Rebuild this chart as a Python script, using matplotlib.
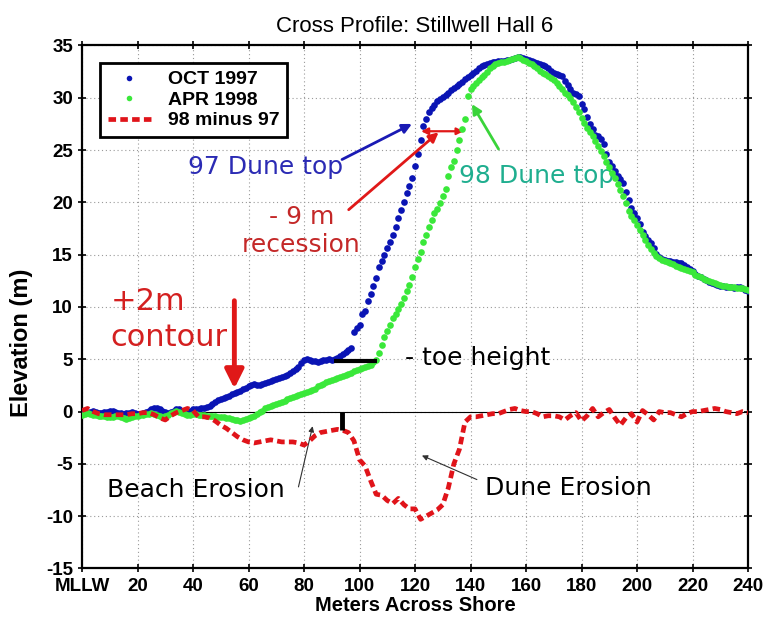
#! /usr/bin/env python3

import numpy as np
import matplotlib
matplotlib.use('Agg')
import matplotlib.pyplot as plt
from matplotlib.lines import Line2D

# ---- data (1 m spacing for the surveys, 2 m for the difference) ----
x_survey = np.arange(0, 241, 1)

oct_1997 = [
    0.1, 0.0, -0.1, 0.0, 0.1, 0.0, -0.1, -0.1, 0.0, 0.0,
    0.1, 0.1, 0.0, -0.1, -0.1, -0.2, -0.1, -0.1, 0.0, -0.1,
    -0.2, -0.2, -0.1, 0.0, 0.1, 0.2, 0.3, 0.3, 0.2, 0.1,
    0.0, -0.1, 0.0, 0.1, 0.2, 0.2, 0.1, 0.0, 0.0, 0.1,
    0.2, 0.2, 0.2, 0.3, 0.3, 0.4, 0.5, 0.7, 0.9, 1.1,
    1.2, 1.3, 1.4, 1.5, 1.7, 1.8, 1.9, 2.0, 2.2, 2.3,
    2.4, 2.5, 2.6, 2.5, 2.5, 2.6, 2.7, 2.8, 2.9, 3.0,
    3.1, 3.2, 3.3, 3.4, 3.5, 3.7, 3.9, 4.1, 4.3, 4.6,
    4.9, 5.0, 4.9, 4.8, 4.8, 4.7, 4.8, 4.9, 4.9, 5.0,
    4.9, 5.0, 5.1, 5.3, 5.5, 5.7, 5.9, 6.1, 7.6, 8.0,
    8.3, 9.3, 9.6, 10.6, 11.2, 12.0, 12.8, 13.8, 14.4, 15.0,
    15.6, 16.2, 16.9, 17.6, 18.5, 19.3, 20.0, 20.9, 21.6, 22.3,
    23.5, 24.6, 26.0, 27.3, 28.0, 28.6, 29.0, 29.3, 29.7, 29.9,
    30.1, 30.3, 30.5, 30.7, 30.9, 31.1, 31.3, 31.5, 31.8, 32.0,
    32.2, 32.4, 32.6, 32.8, 33.0, 33.1, 33.2, 33.3, 33.4, 33.4,
    33.5, 33.5, 33.5, 33.6, 33.6, 33.7, 33.8, 33.9, 33.9, 33.8,
    33.7, 33.6, 33.5, 33.4, 33.3, 33.2, 33.1, 33.0, 32.8, 32.6,
    32.4, 32.3, 32.2, 32.1, 31.6, 31.2, 30.8, 30.5, 30.4, 30.2,
    29.4, 28.9, 28.2, 27.5, 27.0, 26.4, 26.3, 26.1, 25.6, 24.6,
    23.9, 23.5, 23.0, 22.5, 22.2, 21.9, 21.0, 20.2, 19.5, 19.0,
    18.5, 17.9, 17.2, 16.8, 16.4, 16.1, 15.6, 15.1, 14.8, 14.6,
    14.5, 14.4, 14.4, 14.3, 14.3, 14.2, 14.2, 14.0, 13.8, 13.6,
    13.4, 13.2, 13.0, 12.9, 12.7, 12.6, 12.4, 12.3, 12.2, 12.1,
    12.0, 12.0, 11.9, 11.9, 11.9, 11.8, 11.9, 11.9, 11.8, 11.6,
    11.5,
]

apr_1998 = [
    -0.3, -0.2, -0.1, -0.2, -0.3, -0.3, -0.4, -0.4, -0.4, -0.5,
    -0.5, -0.5, -0.4, -0.4, -0.5, -0.6, -0.7, -0.6, -0.5, -0.4,
    -0.4, -0.3, -0.3, -0.2, -0.2, -0.1, -0.2, -0.3, -0.4, -0.5,
    -0.4, -0.3, -0.1, 0.0, 0.1, 0.0, -0.1, -0.2, -0.3, -0.3,
    -0.2, -0.2, -0.3, -0.3, -0.3, -0.4, -0.4, -0.4, -0.4, -0.5,
    -0.5, -0.5, -0.6, -0.6, -0.7, -0.8, -0.8, -0.9, -0.8, -0.7,
    -0.6, -0.5, -0.4, -0.2, 0.0, 0.1, 0.3, 0.4, 0.5, 0.6,
    0.7, 0.8, 0.9, 1.0, 1.2, 1.3, 1.4, 1.5, 1.6, 1.7,
    1.8, 1.9, 2.0, 2.1, 2.2, 2.4, 2.5, 2.6, 2.8, 2.9,
    3.0, 3.1, 3.2, 3.3, 3.4, 3.5, 3.6, 3.7, 3.9, 4.0,
    4.1, 4.2, 4.3, 4.4, 4.5, 4.7, 4.9, 5.6, 6.4, 7.1,
    7.7, 8.3, 8.9, 9.3, 9.8, 10.3, 10.9, 11.5, 12.1, 12.9,
    13.8, 14.6, 15.3, 16.2, 16.9, 17.6, 18.3, 19.0, 19.4, 19.9,
    20.6, 21.3, 22.5, 23.4, 24.0, 25.0, 26.0, 27.0, 28.0, 30.2,
    30.8, 31.1, 31.4, 31.7, 32.0, 32.2, 32.5, 32.8, 33.0, 33.2,
    33.3, 33.4, 33.4, 33.5, 33.6, 33.7, 33.8, 33.9, 33.8, 33.6,
    33.5, 33.3, 33.2, 33.0, 32.8, 32.6, 32.4, 32.3, 32.1, 31.9,
    31.7, 31.4, 31.1, 30.8, 30.5, 30.3, 30.0, 29.6, 29.1, 28.6,
    28.1, 27.6, 27.1, 26.7, 26.3, 25.9, 25.4, 24.9, 24.4, 23.9,
    23.4, 22.8, 22.3, 21.8, 21.2, 20.6, 19.9, 19.2, 18.7, 18.3,
    17.8, 17.4, 16.9, 16.4, 15.9, 15.5, 15.2, 14.9, 14.7, 14.5,
    14.4, 14.3, 14.2, 14.1, 13.9, 13.8, 13.7, 13.6, 13.5, 13.4,
    13.3, 13.1, 13.0, 12.9, 12.7, 12.6, 12.5, 12.4, 12.3, 12.2,
    12.1, 12.0, 12.0, 11.9, 11.9, 11.9, 11.8, 11.8, 11.8, 11.7,
    11.6,
]

x_diff = np.arange(0, 241, 2)
diff_98_97 = [
    0.1, 0.3, 0.0, -0.2, -0.3, -0.3, -0.3, -0.3, -0.3, -0.2,
    -0.2, -0.1, -0.1, -0.3, -0.6, -0.8, -0.4, -0.1, 0.1, 0.3,
    0.1, -0.5, -0.5, -0.6, -0.9, -1.3, -1.6, -2.0, -2.4, -2.7,
    -2.9, -3.0, -2.9, -2.8, -2.7, -2.8, -2.9, -2.9, -2.9, -3.0,
    -3.2, -2.8, -2.3, -2.0, -1.9, -1.8, -1.7, -1.8, -2.0, -2.8,
    -4.6, -5.2, -6.6, -7.9, -8.0, -8.5, -8.8, -8.3, -8.9, -9.3,
    -9.3, -10.3, -10.0, -9.7, -9.4, -8.9, -7.3, -5.0, -3.6, -1.0,
    -0.5, -0.5, -0.4, -0.3, -0.2, -0.2, 0.0, 0.2, 0.3, 0.1,
    0.0, 0.0, -0.2, -0.5, -0.4, -0.4, -0.5, -0.8, -0.4, -0.1,
    -0.9, -0.4, 0.3, -0.5, -0.1, 0.2, -0.6, -1.3, -0.6, -0.2,
    -1.0, 0.1, -0.3, -0.8, 0.0, -0.1, -0.1, -0.3, -0.5, -0.2,
    0.0, 0.0, 0.1, 0.2, 0.3, 0.2, 0.0, -0.1, -0.2, 0.0,
    -0.1,
]

xtick_vals = list(range(0, 241, 20))
xtick_labels = ['MLLW'] + [str(v) for v in xtick_vals[1:]]
ytick_vals = list(range(-15, 36, 5))

# colours
c_oct = '#0a14b4'
c_apr = '#3ae83a'
c_diff = '#e0141a'

plt.rcParams['font.family'] = ['Liberation Sans', 'DejaVu Sans']
plt.rcParams['axes.unicode_minus'] = False

fig = plt.figure(figsize=(7.65, 6.23), dpi=100)
ax = fig.add_axes([0.1072, 0.0875, 0.8706, 0.8395])

ax.plot(x_survey, oct_1997, 'o', color=c_oct, ms=4.8, mew=0, zorder=3)
ax.plot(x_survey, apr_1998, 'o', color=c_apr, ms=4.8, mew=0, zorder=4)
ax.plot(x_diff, diff_98_97, color=c_diff, lw=3.4, dashes=(1.6, 0.9), zorder=5)

ax.axhline(0, color='black', lw=0.8, zorder=2)

ax.set_xlim(0, 240)
ax.set_ylim(-15, 35)
ax.set_xticks(xtick_vals)
ax.set_xticklabels(xtick_labels)
ax.set_yticks(ytick_vals)
ax.grid(True, ls=(0, (1, 2.5)), color='#9a9a9a', lw=0.8)
ax.tick_params(direction='inout', length=6, width=1.2, top=True, right=True,
               labelsize=13.5)
for lab in ax.get_xticklabels() + ax.get_yticklabels():
    lab.set_fontweight('bold')
for sp in ax.spines.values():
    sp.set_linewidth(1.6)

ax.set_title('Cross Profile: Stillwell Hall 6', fontsize=16, pad=10)
ax.set_xlabel('Meters Across Shore', fontsize=14.5, fontweight='bold', labelpad=1)
ax.set_ylabel('Elevation (m)', fontsize=17, fontweight='bold')
ax.yaxis.set_label_coords(-0.074, 0.431)

# legend
handles = [
    Line2D([], [], ls='none', marker='o', ms=4, mew=0, color=c_oct),
    Line2D([], [], ls='none', marker='o', ms=4, mew=0, color=c_apr),
    Line2D([], [], color=c_diff, lw=3.4, dashes=(1.6, 0.9)),
]
leg = ax.legend(handles, ['OCT 1997', 'APR 1998', '98 minus 97'],
                loc='upper left', bbox_to_anchor=(0.027, 0.9665),
                borderaxespad=0,
                prop={'weight': 'bold', 'size': 14}, fancybox=False,
                framealpha=1, edgecolor='black', handlelength=2.2,
                borderpad=0.4, labelspacing=0.15, handletextpad=0.9)
leg.get_frame().set_linewidth(2)

# annotations
ann_font = ['DejaVu Sans']
ann_size = 18
ax.text(66, 23.4, '97 Dune top', color='#2b2bb4', fontsize=ann_size,
        family=ann_font, ha='center', va='center')
ax.annotate('', xy=(118.9, 27.5), xytext=(93.7, 24.1),
            arrowprops=dict(arrowstyle='-|>', color='#1a1ab4', lw=2,
                            mutation_scale=14, shrinkA=0, shrinkB=0))

ax.text(79, 17.3, '- 9 m\nrecession', color='#c42828', fontsize=ann_size,
        family=ann_font, ha='center', va='center', linespacing=1.2)
ax.annotate('', xy=(128.5, 26.7), xytext=(96.1, 19.3),
            arrowprops=dict(arrowstyle='-|>', color='#e01818', lw=2,
                            mutation_scale=14, shrinkA=0, shrinkB=0))
ax.annotate('', xy=(137.5, 26.8), xytext=(122.2, 26.8),
            arrowprops=dict(arrowstyle='<|-|>', color='#e01818', lw=1.6,
                            mutation_scale=10, shrinkA=0, shrinkB=0))

ax.text(164, 22.5, '98 Dune top', color='#1fae8f', fontsize=ann_size,
        family=ann_font, ha='center', va='center')
ax.annotate('', xy=(140.5, 29.4), xytext=(150.1, 25.1),
            arrowprops=dict(arrowstyle='-|>', color='#3ad43a', lw=2,
                            mutation_scale=14, shrinkA=0, shrinkB=0))

ax.text(10.2, 8.8, '+2m\ncontour', color='#d42020', fontsize=22,
        family=ann_font, ha='left', va='center', linespacing=1.3)
ax.annotate('', xy=(54.9, 2.2), xytext=(54.9, 10.6),
            arrowprops=dict(arrowstyle='-|>', color='#e01818', lw=3.5,
                            mutation_scale=28, shrinkA=0, shrinkB=0))

# toe height marks
ax.plot([90.7, 106.3], [4.8, 4.8], color='black', lw=3, solid_capstyle='butt', zorder=6)
ax.text(116.5, 5.1, '- toe height', color='black', fontsize=ann_size,
        family=ann_font, ha='left', va='center')
ax.plot([93.7, 93.7], [0, -1.8], color='black', lw=3.5, solid_capstyle='butt', zorder=6)

ax.text(9.1, -7.5, 'Beach Erosion', color='black', fontsize=ann_size,
        family=ann_font, ha='left', va='center')
ax.annotate('', xy=(83.1, -1.4), xytext=(78.0, -7.2),
            arrowprops=dict(arrowstyle='-|>', color='#303030', lw=0.8,
                            mutation_scale=8, shrinkA=0, shrinkB=0))

ax.text(145.3, -7.3, 'Dune Erosion', color='black', fontsize=ann_size,
        family=ann_font, ha='left', va='center')
ax.annotate('', xy=(122.5, -4.2), xytext=(142.3, -6.5),
            arrowprops=dict(arrowstyle='-|>', color='#303030', lw=0.8,
                            mutation_scale=8, shrinkA=0, shrinkB=0))

fig.savefig('out.png', dpi=100)
